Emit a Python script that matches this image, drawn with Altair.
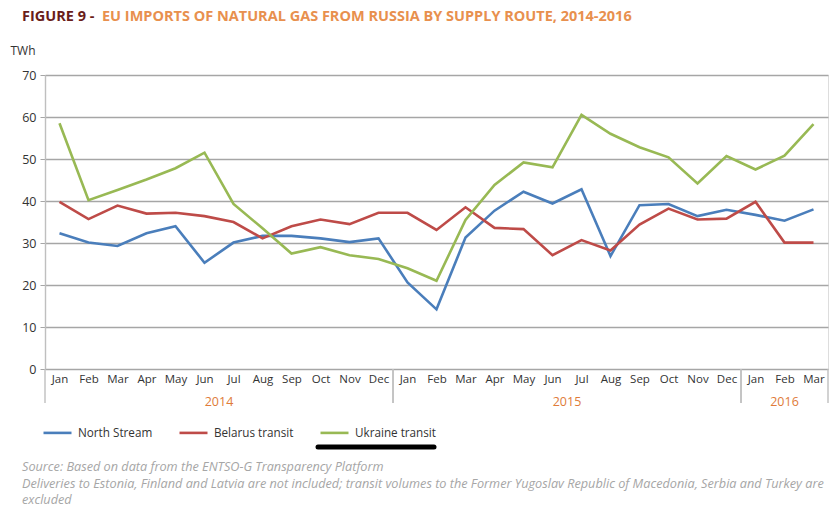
import altair as alt
import pandas as pd

months = ["Jan", "Feb", "Mar", "Apr", "May", "Jun", "Jul", "Aug", "Sep", "Oct", "Nov", "Dec"]
years = [2014] * 12 + [2015] * 12 + [2016] * 3

north_stream = [32.3, 30.1, 29.3, 32.3, 34.0, 25.3, 30.1, 31.7, 31.7, 31.1, 30.2, 31.1,
                20.6, 14.2, 31.3, 37.7, 42.2, 39.4, 42.8, 26.9, 39.0, 39.3, 36.4, 37.9,
                36.7, 35.3, 38.0]
belarus = [39.8, 35.7, 38.9, 37.0, 37.2, 36.4, 35.0, 31.1, 34.0, 35.6, 34.5, 37.2,
           37.2, 33.1, 38.5, 33.6, 33.3, 27.1, 30.7, 28.2, 34.4, 38.2, 35.6, 35.8,
           39.8, 30.1, 30.1]
ukraine = [58.5, 40.2, 42.6, 45.1, 47.8, 51.5, 39.3, 33.5, 27.5, 29.0, 27.1, 26.2,
           24.0, 21.0, 35.5, 43.8, 49.2, 48.0, 60.5, 56.0, 52.8, 50.4, 44.2, 50.7,
           47.5, 50.8, 58.3]

series_names = ["North Stream", "Belarus transit", "Ukraine transit"]
series_colors = ["#4a7ebb", "#be4b48", "#98b954"]

title_part1 = "FIGURE 9 - "
title_part2 = "EU IMPORTS OF NATURAL GAS FROM RUSSIA BY SUPPLY ROUTE, 2014-2016"
footnotes = [
    "Source: Based on data from the ENTSO-G Transparency Platform",
    "Deliveries to Estonia, Finland and Latvia are not included; transit volumes to the Former Yugoslav Republic of Macedonia, Serbia and Turkey are",
    "excluded",
]

n = len(years)
rows = []
for name, vals in zip(series_names, [north_stream, belarus, ukraine]):
    for i in range(n):
        rows.append({"i": i, "series": name, "value": vals[i]})
df = pd.DataFrame(rows)
ydf = pd.DataFrame({"i": list(range(n)), "year": years})

FONT = "Open Sans"
W, H = 783, 294

xscale = alt.Scale(domain=[-0.5, n - 0.5], nice=False, zero=False)
month_expr = "[" + ",".join(f"'{m}'" for m in months) + "][datum.value % 12]"
xaxis = alt.Axis(title=None, values=list(range(n)), labelExpr=month_expr,
                 grid=False, ticks=False, domain=False, labelFont=FONT,
                 labelFontSize=11.5, labelColor="#333333", labelPadding=4,
                 labelFlush=False, labelOverlap=False, labelBound=False)

lines = alt.Chart(df).mark_line(strokeWidth=2.6).encode(
    x=alt.X("i:Q", scale=xscale, axis=xaxis),
    y=alt.Y("value:Q", scale=alt.Scale(domain=[0, 70], nice=False),
            axis=alt.Axis(title="TWh", titleAngle=0, titleX=-10, titleY=-25,
                          titleAlign="right", titleBaseline="middle", titleFont=FONT,
                          titleFontSize=12, titleFontWeight="normal", titleColor="#333333",
                          values=list(range(0, 71, 10)), grid=True, gridColor="#a6a6a6",
                          gridWidth=1.4, tickColor="#a6a6a6", tickSize=5, domainColor="#bfbfbf",
                          domainWidth=1.4, labelFont=FONT, labelFontSize=12.5,
                          labelColor="#333333", labelPadding=4)),
    color=alt.Color("series:N", sort=series_names,
                    scale=alt.Scale(domain=series_names, range=series_colors),
                    legend=alt.Legend(title=None, orient="none", legendX=-3, legendY=342,
                                      direction="horizontal", symbolType="stroke",
                                      symbolSize=784, symbolStrokeWidth=2.6,
                                      labelFont=FONT, labelFontSize=11.7,
                                      labelColor="#333333", labelOffset=5,
                                      columnPadding=21)),
)

year_labels = alt.Chart(ydf).transform_aggregate(
    mid="mean(i)", groupby=["year"]
).mark_text(font=FONT, fontSize=12.5, color="#e07b39", baseline="middle").encode(
    x=alt.X("mid:Q", scale=xscale, axis=xaxis),
    y=alt.value(H + 33),
    text="year:N",
)

sep_lo = alt.Chart(ydf).transform_aggregate(
    lo="min(i)", hi="max(i)", groupby=["year"]
).transform_fold(["lo", "hi"], as_=["k", "edge"]).transform_calculate(
    pos="datum.k == 'lo' ? datum.edge - 0.5 : datum.edge + 0.5"
).mark_rule(color="#bfbfbf", strokeWidth=1.4).encode(
    x=alt.X("pos:Q", scale=xscale, axis=xaxis),
    y=alt.value(H),
    y2=alt.value(H + 34),
)

title1 = alt.Chart().mark_text(font=FONT, fontSize=14.5, fontWeight="bold", color="#6a1d1a",
                               align="left", baseline="middle").encode(
    x=alt.value(-23), y=alt.value(17 - 75), text=alt.value(title_part1))
title2 = alt.Chart().mark_text(font=FONT, fontSize=14.5, fontWeight="bold", color="#e8904e",
                               align="left", baseline="middle").encode(
    x=alt.value(57), y=alt.value(17 - 75), text=alt.value(title_part2))

foot = alt.Chart().mark_text(font=FONT, fontSize=12.7, fontStyle="italic", color="#a6a6a6",
                             align="left", baseline="middle", lineHeight=16.5).encode(
    x=alt.value(-23), y=alt.value(467 - 75), text=alt.value(footnotes))

underline = alt.Chart().mark_rule(color="black", strokeWidth=5, strokeCap="round").encode(
    x=alt.value(318 - 45), x2=alt.value(434 - 45), y=alt.value(447 - 75))

chart = alt.layer(lines, sep_lo, year_labels, title1, title2, foot, underline).properties(
    width=W, height=H,
    autosize=alt.AutoSizeParams(type="none"),
    padding={"left": 45, "top": 75, "right": 8, "bottom": 153},
).configure_view(stroke=None).configure(background="white")

chart.save("out.html", embed_options={"renderer": "svg", "actions": False})
